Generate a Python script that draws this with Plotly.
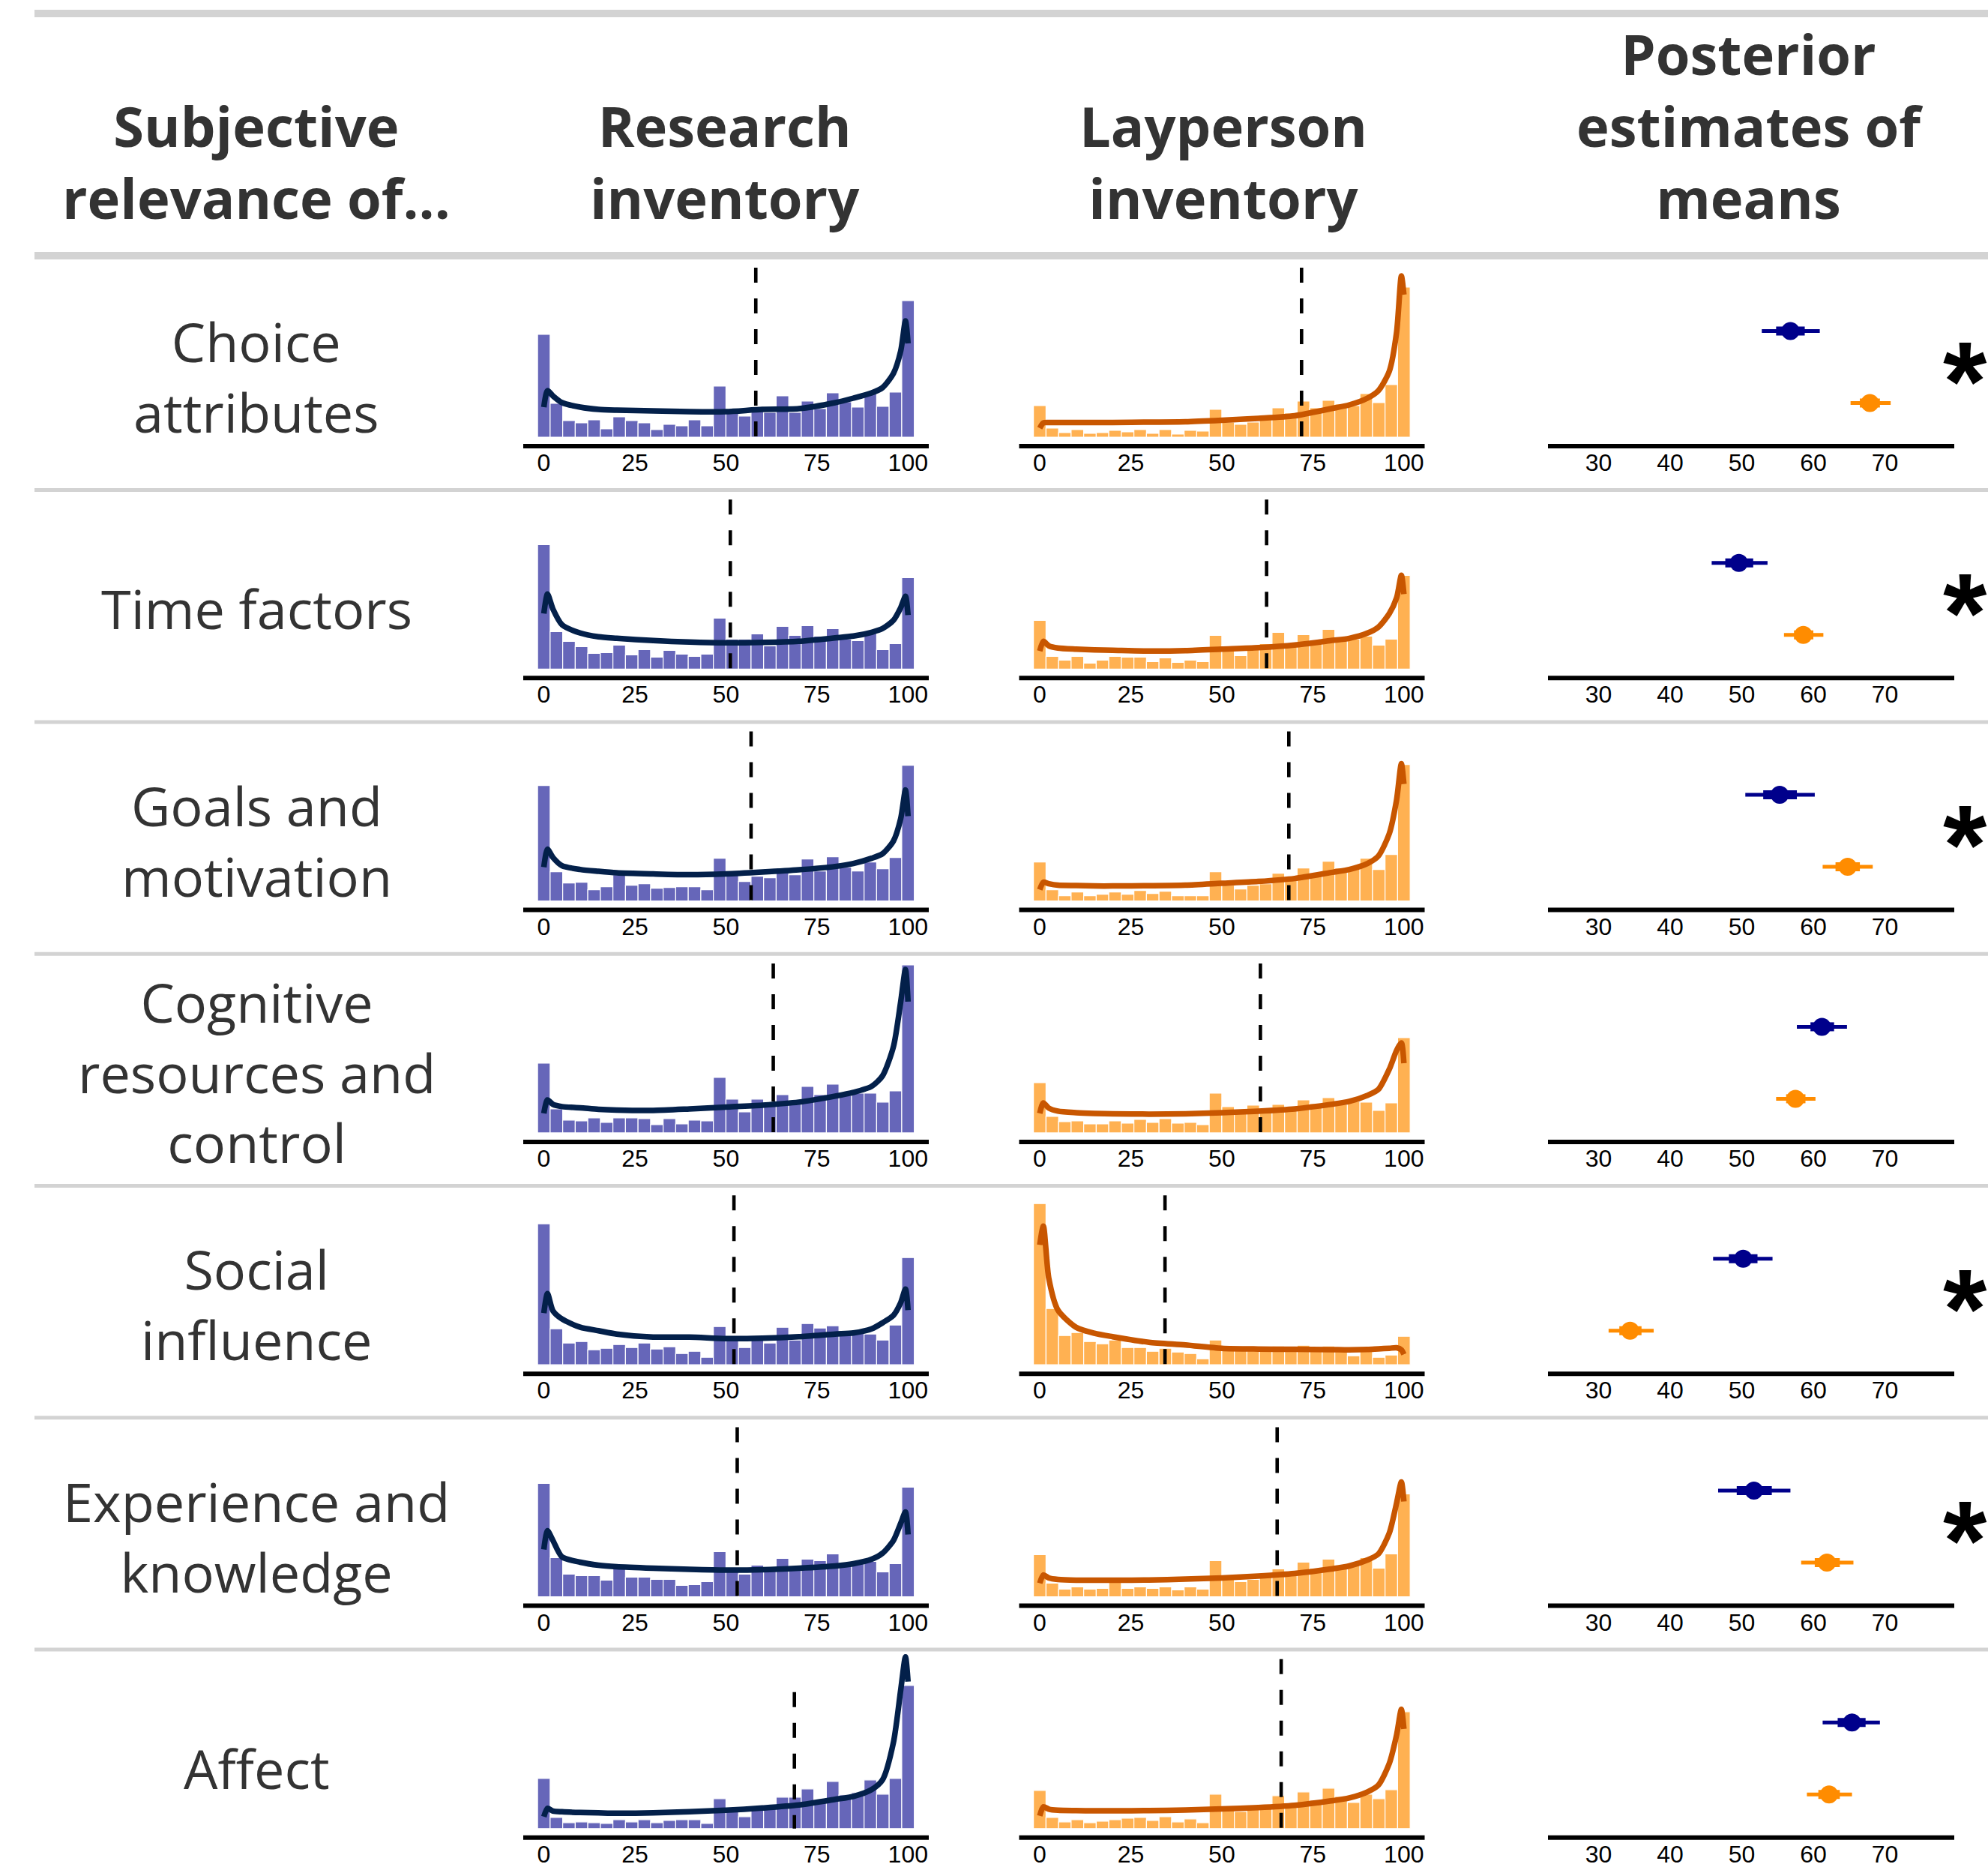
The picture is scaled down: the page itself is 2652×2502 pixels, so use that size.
import plotly.graph_objects as go

W, H = 2652, 2502

# ---------------- text ----------------
header_labels = [
    ["Subjective", "relevance of..."],
    ["Research", "inventory"],
    ["Layperson", "inventory"],
    ["Posterior", "estimates of", "means"],
]
row_labels = [
    ["Choice", "attributes"],
    ["Time factors"],
    ["Goals and", "motivation"],
    ["Cognitive", "resources and", "control"],
    ["Social", "influence"],
    ["Experience and", "knowledge"],
    ["Affect"],
]
hist_ticks = [0, 25, 50, 75, 100]
post_ticks = [30, 40, 50, 60, 70]

# ---------------- histogram counts (30 bins over 0..100) ----------------
research_choice = [137, 45, 22, 19, 23, 11, 27, 22, 19, 10, 17, 15, 23, 15, 68, 33, 28, 37, 33, 55, 33, 48, 38, 59, 47, 40, 58, 41, 60, 182]
layperson_choice = [42, 12, 6, 10, 5, 6, 9, 7, 10, 5, 10, 4, 9, 8, 37, 20, 17, 20, 29, 39, 32, 48, 39, 49, 44, 42, 58, 46, 70, 200]
research_time = [166, 50, 37, 30, 21, 22, 32, 19, 26, 16, 25, 20, 17, 20, 68, 40, 40, 47, 31, 57, 45, 58, 44, 54, 40, 38, 49, 26, 34, 122]
layperson_time = [65, 17, 12, 17, 8, 12, 17, 16, 16, 10, 15, 9, 12, 10, 45, 31, 18, 32, 34, 49, 30, 46, 39, 53, 38, 40, 44, 32, 40, 125]
research_goals = [154, 39, 24, 25, 15, 19, 35, 21, 23, 17, 18, 19, 19, 15, 57, 36, 26, 33, 31, 44, 35, 56, 40, 59, 45, 40, 52, 43, 58, 181]
layperson_goals = [52, 15, 7, 12, 7, 9, 12, 9, 14, 10, 13, 7, 7, 7, 39, 21, 16, 21, 23, 37, 31, 44, 35, 53, 44, 45, 57, 42, 62, 182]
research_cognitive = [93, 32, 17, 16, 20, 14, 20, 20, 19, 11, 19, 12, 17, 16, 74, 45, 28, 45, 36, 51, 43, 62, 51, 65, 50, 53, 53, 41, 56, 224]
layperson_cognitive = [67, 22, 15, 16, 12, 12, 16, 13, 18, 14, 19, 13, 14, 11, 53, 35, 26, 37, 28, 38, 33, 44, 39, 47, 38, 42, 41, 30, 40, 127]
research_social = [188, 48, 29, 31, 20, 22, 27, 23, 29, 21, 24, 15, 18, 10, 51, 33, 23, 33, 29, 50, 33, 55, 49, 52, 42, 45, 41, 33, 53, 143]
layperson_social = [215, 75, 39, 43, 31, 28, 33, 23, 23, 18, 22, 17, 15, 8, 33, 20, 20, 20, 20, 25, 23, 26, 20, 25, 20, 12, 20, 10, 13, 38]
research_experience = [151, 52, 30, 28, 28, 22, 39, 26, 26, 23, 23, 15, 16, 20, 60, 36, 30, 42, 37, 51, 40, 50, 48, 57, 45, 44, 47, 33, 44, 146]
layperson_experience = [56, 18, 10, 13, 10, 11, 20, 11, 13, 11, 13, 9, 13, 10, 48, 23, 20, 23, 27, 37, 30, 46, 38, 50, 40, 43, 52, 38, 57, 137]
research_affect = [67, 15, 8, 9, 8, 7, 12, 9, 12, 8, 11, 12, 12, 7, 40, 26, 16, 29, 31, 42, 42, 53, 36, 63, 45, 48, 65, 46, 67, 191]
layperson_affect = [51, 15, 9, 12, 8, 10, 12, 14, 15, 11, 16, 9, 13, 8, 46, 26, 23, 28, 30, 44, 33, 49, 38, 54, 43, 35, 46, 40, 52, 156]

# ---------------- density curves (same scale as counts) ----------------
density_x = [0, 1, 2.5, 5, 10, 15, 20, 30, 40, 50, 60, 70, 80, 85, 90, 93, 96, 98, 99.3, 100]
dens_research_choice = [40, 62, 55, 46, 40, 37, 36, 35, 34, 34, 37, 38, 46, 52, 59, 66, 85, 115, 155, 125]
dens_layperson_choice = [12, 19, 19.5, 19.5, 19.5, 19.5, 19.5, 20, 20.5, 22.5, 25, 28.5, 38, 43, 52, 62, 88, 140, 215, 190]
dens_research_time = [74, 100, 80, 59, 48, 43, 41, 38, 36, 35, 35.5, 37, 41.5, 44, 49, 54, 65, 82, 97, 72]
dens_layperson_time = [24, 37, 31, 28, 26.5, 25.5, 25, 24, 24.5, 26.5, 28.5, 32, 38, 41, 48, 56, 74, 95, 125, 100]
dens_research_goals = [45, 69, 58, 47, 42, 39.5, 37.5, 36, 35, 36, 38.5, 41.5, 46, 50, 57, 63, 80, 110, 148, 113]
dens_layperson_goals = [15, 25, 23, 21, 20.5, 20, 20, 20.3, 21, 23.5, 26, 30, 38, 42, 50, 60, 90, 135, 183, 156]
dens_research_cognitive = [26, 44, 38, 35, 33.5, 31.5, 30.5, 30, 32, 34.5, 37, 41, 49, 54, 62, 76, 115, 175, 218, 175]
dens_layperson_cognitive = [26, 40, 33, 29, 27, 26, 25.5, 25, 25.5, 27, 29, 32, 38, 42, 50, 58, 85, 110, 120, 93]
dens_research_social = [69, 95, 72, 61, 50, 45.5, 41, 37, 37, 35, 35.5, 37.5, 41, 42.5, 48, 56, 66, 83, 101, 73]
dens_layperson_social = [160, 185, 115, 73, 50, 42, 37.5, 30, 26.5, 22, 21, 20.7, 20.3, 20, 20.5, 21.3, 22, 22.7, 20, 14]
dens_research_experience = [63, 88, 75, 53, 46, 42, 40, 38, 36.5, 35.5, 36, 38, 41, 44, 50, 58, 75, 98, 113, 83]
dens_layperson_experience = [18, 29, 25, 23, 22, 22, 22, 22.3, 23.5, 25, 27.5, 31, 37, 41, 49, 57, 85, 125, 153, 127]
dens_research_affect = [16, 27, 23.5, 22.5, 21.5, 21, 20.5, 21, 22.5, 24.5, 27.5, 31.5, 39, 43, 52, 65, 115, 185, 229, 196]
dens_layperson_affect = [17, 29, 26, 24.5, 24, 23.7, 23.7, 24, 24.7, 26.3, 28, 31, 37, 41, 49, 58, 87, 125, 159, 133]

# ---------------- sample means (dashed lines) ----------------
research_mean_line = [58.2, 51.2, 56.9, 63.0, 52.2, 53.1, 68.8]
layperson_mean_line = [71.9, 62.3, 68.4, 60.6, 34.4, 65.2, 66.3]
research_line_top = [226, 226, 226, 226, 226, 226, 182]
layperson_line_top = [226, 226, 226, 226, 226, 226, 226]

# ---------------- posterior estimates ----------------
post_research_mean = [56.8, 49.6, 55.3, 61.2, 50.2, 51.7, 65.4]
post_research_lo_outer = [52.8, 45.8, 50.5, 57.7, 46.0, 46.7, 61.3]
post_research_hi_outer = [60.9, 53.6, 60.2, 64.7, 54.3, 56.8, 69.3]
post_research_lo_inner = [54.8, 47.7, 53.0, 59.6, 48.2, 49.3, 63.4]
post_research_hi_inner = [58.8, 51.6, 57.7, 62.9, 52.2, 54.2, 67.3]
post_lay_mean = [67.9, 58.6, 64.8, 57.5, 34.4, 61.9, 62.2]
post_lay_lo_outer = [65.2, 55.9, 61.3, 54.8, 31.4, 58.3, 59.1]
post_lay_hi_outer = [70.8, 61.4, 68.3, 60.3, 37.7, 65.6, 65.4]
post_lay_lo_inner = [66.5, 57.3, 63.1, 56.2, 32.9, 60.2, 60.7]
post_lay_hi_inner = [69.3, 60.0, 66.5, 58.9, 36.0, 63.7, 63.7]
significant = [True, True, True, False, True, True, False]

research_hists = [research_choice, research_time, research_goals, research_cognitive,
                  research_social, research_experience, research_affect]
layperson_hists = [layperson_choice, layperson_time, layperson_goals, layperson_cognitive,
                   layperson_social, layperson_experience, layperson_affect]
research_dens = [dens_research_choice, dens_research_time, dens_research_goals, dens_research_cognitive,
                 dens_research_social, dens_research_experience, dens_research_affect]
layperson_dens = [dens_layperson_choice, dens_layperson_time, dens_layperson_goals, dens_layperson_cognitive,
                  dens_layperson_social, dens_layperson_experience, dens_layperson_affect]

# ---------------- styles / layout geometry (pixels) ----------------
N_BINS = 30
BIN_W = 100 / (N_BINS - 1)
bin_centers = [i * BIN_W for i in range(N_BINS)]

RES_BAR = "rgba(0,0,139,0.6)"
RES_LINE = "#03204a"
LAY_BAR = "rgba(255,140,0,0.68)"
LAY_LINE = "#c85600"
POST_RES = "#00008b"
POST_LAY = "#ff8c00"
GRAY = "#d3d3d3"
TXT = "#333333"
TEXT_FONT = "Open Sans"
TICK_FONT = "Liberation Sans"
LABEL_SIZE = 72
HEADER_SIZE = 74
LINE_SP = 1.3  # plotly multi-line spacing (em)

ROW0_BASE = 583.0
ROW_STEP = 309.3
Y_LO, Y_HI = -16, 235          # histogram y range (1 unit == 1 px)
HIST_X_PX = [(698, 1239), (1359.5, 1900.5)]
HIST_ZERO_PX = [725.5, 1387.0]
HIST_PPU = 4.858
POST_X_PX = (2065, 2607)
POST_30_PX = 2132.5
POST_PPU = 9.55
POST_Y0_OFF = 45.5             # px above base for y=0 (layperson)
POST_PPY = 96.0                # px per y unit
STAR_SIZE = 150


def fx(px):
    return px / W


def fy(py):
    return 1 - py / H


fig = go.Figure()
layout = dict(
    width=W, height=H, margin=dict(l=0, r=0, t=0, b=0),
    paper_bgcolor="white", plot_bgcolor="white", showlegend=False,
)
shapes = []
annotations = []


def axname(n, kind):
    return kind + ("" if n == 1 else str(n))


for r in range(7):
    base = ROW0_BASE + r * ROW_STEP
    # ---- histogram panels ----
    for c in range(2):
        n = r * 3 + c + 1
        x0px, x1px = HIST_X_PX[c]
        zero = HIST_ZERO_PX[c]
        xr = [(x0px - zero) / HIST_PPU, (x1px - zero) / HIST_PPU]
        layout[axname(n, "xaxis")] = dict(
            domain=[fx(x0px), fx(x1px)], range=xr, anchor=axname(n, "y"),
            showgrid=False, zeroline=False, showline=False, ticks="",
            tickvals=hist_ticks, tickfont=dict(family=TICK_FONT, size=32, color="black"),
            ticklabelstandoff=-4, fixedrange=True,
        )
        layout[axname(n, "yaxis")] = dict(
            domain=[fy(base + 16), fy(base - 235)], range=[Y_LO, Y_HI], anchor=axname(n, "x"),
            showgrid=False, zeroline=False, showline=False, showticklabels=False, ticks="",
            fixedrange=True,
        )
        counts = research_hists[r] if c == 0 else layperson_hists[r]
        dens = research_dens[r] if c == 0 else layperson_dens[r]
        mline = research_mean_line[r] if c == 0 else layperson_mean_line[r]
        mtop = research_line_top[r] if c == 0 else layperson_line_top[r]
        xa, ya = axname(n, "x"), axname(n, "y")
        fig.add_trace(go.Bar(
            x=bin_centers, y=counts, width=BIN_W, xaxis=xa, yaxis=ya,
            marker=dict(color=RES_BAR if c == 0 else LAY_BAR, line=dict(color="white", width=1.2)),
            hoverinfo="skip",
        ))
        fig.add_trace(go.Scatter(
            x=[mline, mline], y=[mtop, 0], mode="lines", xaxis=xa, yaxis=ya,
            line=dict(color="black", width=4.6, dash="20px,21px"), hoverinfo="skip",
        ))
        fig.add_trace(go.Scatter(
            x=density_x, y=dens, mode="lines", xaxis=xa, yaxis=ya,
            line=dict(color=RES_LINE if c == 0 else LAY_LINE, width=7.5, shape="spline", smoothing=0.7),
            hoverinfo="skip",
        ))
        shapes.append(dict(type="line", xref=xa + " domain", yref=ya, x0=0, x1=1, y0=-12, y1=-12,
                           line=dict(color="black", width=6)))

    # ---- posterior panel ----
    n = r * 3 + 3
    xa, ya = axname(n, "x"), axname(n, "y")
    pxr = [30 + (POST_X_PX[0] - POST_30_PX) / POST_PPU, 30 + (POST_X_PX[1] - POST_30_PX) / POST_PPU]
    pyr = [(-16 - POST_Y0_OFF) / POST_PPY, (235 - POST_Y0_OFF) / POST_PPY]
    layout[axname(n, "xaxis")] = dict(
        domain=[fx(POST_X_PX[0]), fx(POST_X_PX[1])], range=pxr, anchor=ya,
        showgrid=False, zeroline=False, showline=False, ticks="",
        tickvals=post_ticks, tickfont=dict(family=TICK_FONT, size=32, color="black"),
        ticklabelstandoff=-4, fixedrange=True,
    )
    layout[axname(n, "yaxis")] = dict(
        domain=[fy(base + 16), fy(base - 235)], range=pyr, anchor=xa,
        showgrid=False, zeroline=False, showline=False, showticklabels=False, ticks="",
        fixedrange=True,
    )
    groups = [
        (1, POST_RES, post_research_mean, post_research_lo_outer, post_research_hi_outer,
         post_research_lo_inner, post_research_hi_inner),
        (0, POST_LAY, post_lay_mean, post_lay_lo_outer, post_lay_hi_outer,
         post_lay_lo_inner, post_lay_hi_inner),
    ]
    for gy, col, mean, lo_o, hi_o, lo_i, hi_i in groups:
        fig.add_trace(go.Scatter(x=[lo_o[r], hi_o[r]], y=[gy, gy], mode="lines", xaxis=xa, yaxis=ya,
                                 line=dict(color=col, width=5), hoverinfo="skip"))
        fig.add_trace(go.Scatter(x=[lo_i[r], hi_i[r]], y=[gy, gy], mode="lines", xaxis=xa, yaxis=ya,
                                 line=dict(color=col, width=12), hoverinfo="skip"))
        fig.add_trace(go.Scatter(x=[mean[r]], y=[gy], mode="markers", xaxis=xa, yaxis=ya,
                                 marker=dict(color=col, size=24, line=dict(width=0)), hoverinfo="skip"))
    shapes.append(dict(type="line", xref=xa + " domain", yref=ya, x0=0, x1=1,
                       y0=(-12 - POST_Y0_OFF) / POST_PPY, y1=(-12 - POST_Y0_OFF) / POST_PPY,
                       line=dict(color="black", width=6)))
    if significant[r]:
        annotations.append(dict(
            text="<b>*</b>", xref="paper", yref=ya, x=1.0, y=0.5, showarrow=False,
            xanchor="right", yanchor="middle", yshift=-19, borderpad=0,
            font=dict(family=TICK_FONT, size=STAR_SIZE, color="black"),
        ))

    # ---- row label ----
    center = 498 + r * ROW_STEP
    annotations.append(dict(
        text="<br>".join(row_labels[r]), xref="paper", yref="paper", x=fx(342), y=fy(center + 4),
        showarrow=False, xanchor="center", yanchor="middle", align="center",
        font=dict(family=TEXT_FONT, size=LABEL_SIZE, color=TXT),
    ))

    # ---- row separator ----
    if r < 6:
        sy = 653.6 + r * ROW_STEP
        shapes.append(dict(type="line", xref="paper", yref="paper", x0=fx(46), x1=1,
                           y0=fy(sy), y1=fy(sy), line=dict(color=GRAY, width=5)))

# ---- header (bottom aligned) ----
header_x = [342, 967, 1632, 2334]
for hx, lines in zip(header_x, header_labels):
    k = len(lines)
    sp = LINE_SP * HEADER_SIZE
    mid_baseline = 292 - (k - 1) * sp / 2
    annotations.append(dict(
        text="<br>".join("<b>" + t + "</b>" for t in lines), xref="paper", yref="paper",
        x=fx(hx), y=fy(mid_baseline - 0.388 * HEADER_SIZE),
        showarrow=False, xanchor="center", yanchor="middle", align="center",
        font=dict(family=TEXT_FONT, size=HEADER_SIZE, color=TXT),
    ))
for sy in (18, 341):
    shapes.append(dict(type="line", xref="paper", yref="paper", x0=fx(46), x1=1,
                       y0=fy(sy), y1=fy(sy), line=dict(color=GRAY, width=10)))

layout["shapes"] = shapes
layout["annotations"] = annotations
fig.update_layout(**layout)
fig.write_html("out.html", config={"displayModeBar": False},
               post_script="document.body.style.margin='0px';")
